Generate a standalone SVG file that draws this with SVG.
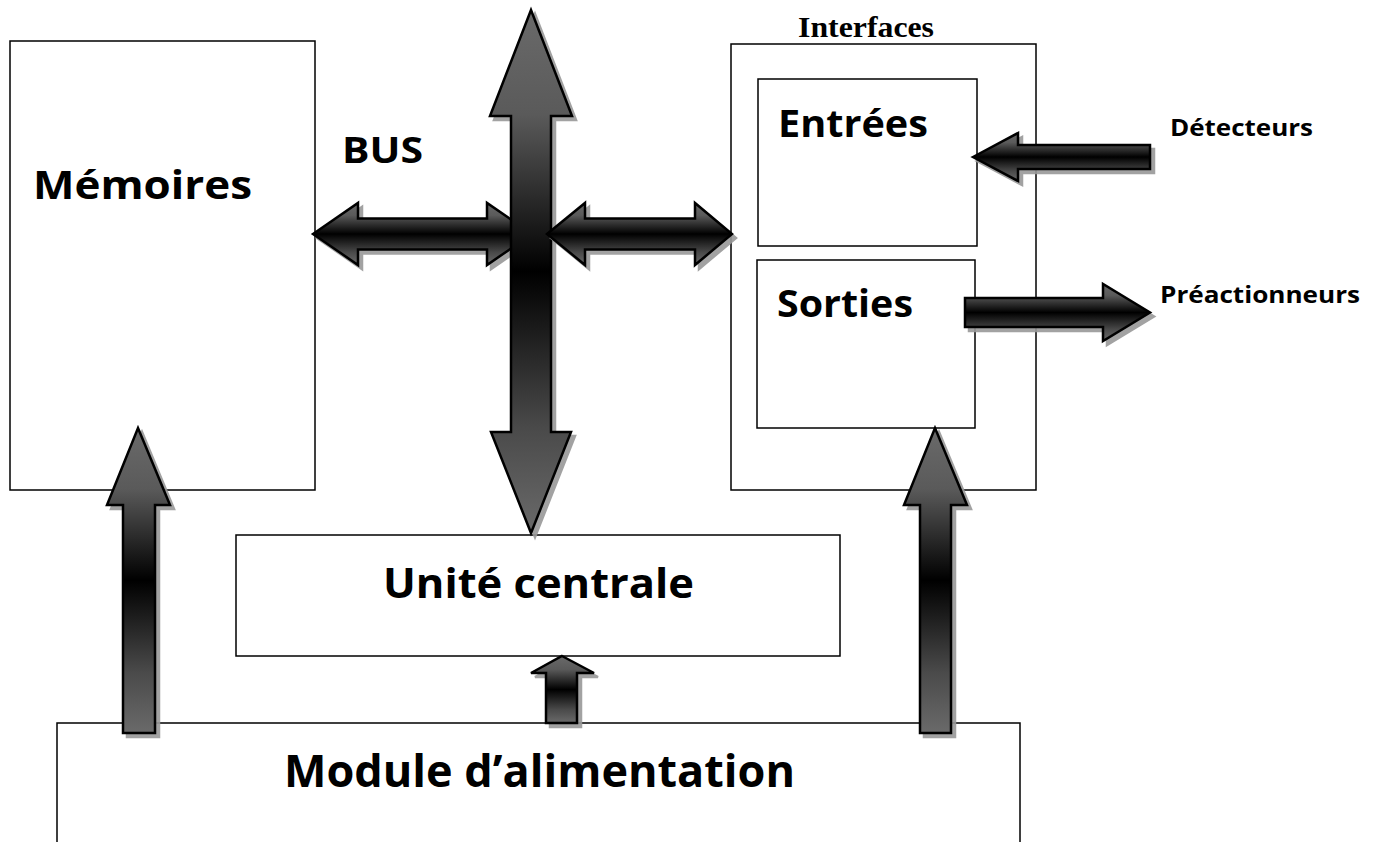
<svg xmlns="http://www.w3.org/2000/svg" width="1374" height="842" viewBox="0 0 1374 842">
<style>
.box{fill:#fff;stroke:#000;stroke-width:1.5}
.lbl{font-family:"Open Sans","Liberation Sans",sans-serif;font-weight:bold;fill:#000}
.ser{font-family:"Liberation Serif","Times New Roman",serif;font-weight:bold;fill:#000}
.arr{fill:url(#g);stroke:#000;stroke-width:2.5;stroke-linejoin:miter}
.sh{fill:#999;stroke:#999;stroke-width:2.5;opacity:0.9}
</style>
<defs>
<linearGradient id="g" x1="0" y1="0" x2="0" y2="1">
<stop offset="0" stop-color="#6a6a6a"/>
<stop offset="0.2" stop-color="#5a5a5a"/>
<stop offset="0.5" stop-color="#000"/>
<stop offset="0.8" stop-color="#4a4a4a"/>
<stop offset="1" stop-color="#6a6a6a"/>
</linearGradient>
<path id="aBusL" d="M313,234 L358,203 L358,218.5 L487,218.5 L487,203 L532,234 L487,265 L487,249.5 L358,249.5 L358,265 Z"/>
<path id="aBusR" d="M547,234 L585,203 L585,218.5 L695,218.5 L695,203 L732,234 L695,265 L695,249.5 L585,249.5 L585,265 Z"/>
<path id="aV" d="M531,10 L572,116 L551,116 L551,432 L571,432 L531,533 L491,432 L511,432 L511,116 L490,116 Z"/>
<path id="aDet" d="M973,157 L1018,133 L1018,145 L1150,145 L1150,169 L1018,169 L1018,181 Z"/>
<path id="aSor" d="M965,298 L1103,298 L1103,284 L1150,312.5 L1103,341 L1103,327 L965,327 Z"/>
<path id="aMem" d="M138,428 L170,505 L155,505 L155,733 L123,733 L123,505 L107,505 Z"/>
<path id="aInt" d="M935,428 L967,505 L951,505 L951,733 L920,733 L920,505 L904,505 Z"/>
<path id="aUc" d="M562,656 L594,673 L577,673 L577,723 L546,723 L546,673 L531,673 Z"/>
</defs>
<rect width="1374" height="842" fill="#fff"/>

<g id="memoires">
<rect class="box" x="10" y="41" width="305" height="449"/>
<text class="lbl" x="33" y="199" font-size="39" textLength="219" lengthAdjust="spacingAndGlyphs">Mémoires</text>
</g>
<g id="interfaces">
<rect class="box" x="731" y="44" width="305" height="446"/>
<text class="ser" x="798" y="37" font-size="29" textLength="136" lengthAdjust="spacingAndGlyphs">Interfaces</text>
</g>
<g id="entrees">
<rect class="box" x="758" y="79" width="219" height="167"/>
<text class="lbl" x="778" y="137" font-size="38" textLength="150" lengthAdjust="spacingAndGlyphs">Entrées</text>
</g>
<g id="sorties">
<rect class="box" x="757" y="260" width="218" height="168"/>
<text class="lbl" x="777" y="317" font-size="38" textLength="136" lengthAdjust="spacingAndGlyphs">Sorties</text>
</g>
<g id="unite-centrale">
<rect class="box" x="236" y="535" width="604" height="121"/>
<text class="lbl" x="383" y="598" font-size="42" textLength="311" lengthAdjust="spacingAndGlyphs">Unité centrale</text>
</g>
<g id="module-alimentation">
<rect class="box" x="57" y="723" width="963" height="140"/>
<text class="lbl" x="284" y="787" font-size="45" textLength="511" lengthAdjust="spacingAndGlyphs">Module d’alimentation</text>
</g>
<g id="bus-label">
<text class="lbl" x="342" y="163" font-size="36" textLength="81" lengthAdjust="spacingAndGlyphs">BUS</text>
</g>
<g id="detecteurs">
<text class="lbl" x="1170" y="136" font-size="24" textLength="143" lengthAdjust="spacingAndGlyphs">Détecteurs</text>
</g>
<g id="preactionneurs">
<text class="lbl" x="1160" y="303" font-size="24" textLength="200" lengthAdjust="spacingAndGlyphs">Préactionneurs</text>
</g>

<g id="connectors">
<use href="#aBusL" class="sh" transform="translate(4,4)"/>
<use href="#aBusL" class="arr"/>
<use href="#aV" class="sh" transform="translate(4,4)"/>
<use href="#aV" class="arr"/>
<use href="#aBusR" class="sh" transform="translate(4,4)"/>
<use href="#aBusR" class="arr"/>
<use href="#aDet" class="sh" transform="translate(4,4)"/>
<use href="#aDet" class="arr"/>
<use href="#aSor" class="sh" transform="translate(4,4)"/>
<use href="#aSor" class="arr"/>
<use href="#aMem" class="sh" transform="translate(4,4)"/>
<use href="#aMem" class="arr"/>
<use href="#aInt" class="sh" transform="translate(4,4)"/>
<use href="#aInt" class="arr"/>
<use href="#aUc" class="sh" transform="translate(4,4)"/>
<use href="#aUc" class="arr"/>
</g>
</svg>
